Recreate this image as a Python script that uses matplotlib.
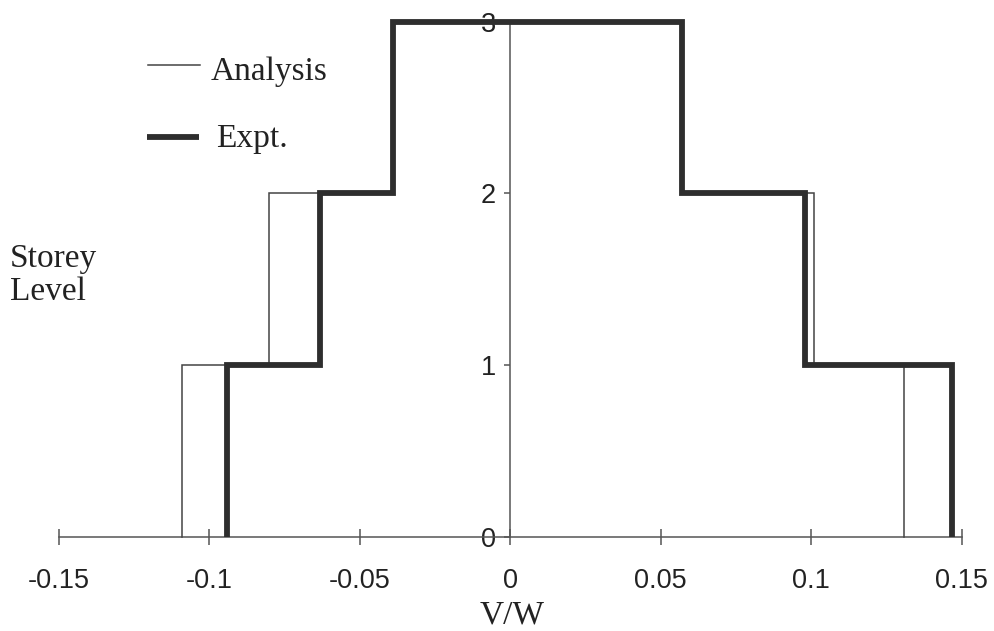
import matplotlib
matplotlib.use("Agg")
import matplotlib.pyplot as plt
from matplotlib.lines import Line2D

# Storey shear envelope (V/W) per storey, negative and positive direction
storeys = [1, 2, 3]
analysis_neg = [-0.109, -0.080, -0.039]
analysis_pos = [0.131, 0.101, 0.057]
expt_neg = [-0.094, -0.063, -0.039]
expt_pos = [0.147, 0.098, 0.057]

x_ticks = [-0.15, -0.1, -0.05, 0, 0.05, 0.1, 0.15]
x_tick_labels = ["-0.15", "-0.1", "-0.05", "0", "0.05", "0.1", "0.15"]
y_ticks = [0, 1, 2, 3]
y_tick_labels = ["0", "1", "2", "3"]


def envelope(neg, pos, levels):
    """Stepped outline: up the negative side, across the top, down the positive side."""
    xs, ys = [], []
    lower = 0
    for lvl, v in zip(levels, neg):
        xs += [v, v]
        ys += [lower, lvl]
        lower = lvl
    for lvl, v in zip(reversed(levels), reversed(pos)):
        below = lvl - 1
        xs += [v, v]
        ys += [lvl, below]
    return xs, ys


W, H = 994, 631
fig = plt.figure(figsize=(W / 100, H / 100), dpi=100)
fig.patch.set_facecolor("white")

x0, x1 = 58.5, 961.5
y0, y3 = 537, 21.5
ax = fig.add_axes([x0 / W, 1 - y0 / H, (x1 - x0) / W, (y0 - y3) / H])
ax.set_xlim(-0.15, 0.15)
ax.set_ylim(0, 3)
ax.patch.set_alpha(0)

line_col = "#2e2e2e"
axis_col = "#555555"
text_col = "#222222"

xa, ya = envelope(analysis_neg, analysis_pos, storeys)
xe, ye = envelope(expt_neg, expt_pos, storeys)
ax.plot(xa, ya, color="#444444", lw=1.1, clip_on=False, zorder=3,
        solid_joinstyle="miter")
ax.plot(xe, ye, color=line_col, lw=4.2, clip_on=False, zorder=4,
        solid_joinstyle="miter", solid_capstyle="butt")

for s in ("top", "right"):
    ax.spines[s].set_visible(False)
ax.spines["left"].set_position(("data", 0))
ax.spines["left"].set_color(axis_col)
ax.spines["left"].set_linewidth(1.1)
ax.spines["bottom"].set_color(axis_col)
ax.spines["bottom"].set_linewidth(1.1)

tick_font = {"family": "Liberation Sans", "size": 19.5}
ax.set_xticks(x_ticks)
ax.set_xticklabels(x_tick_labels, fontdict=tick_font, color=text_col)
ax.set_yticks(y_ticks)
ax.set_yticklabels(y_tick_labels, fontdict=tick_font, color=text_col)
ax.tick_params(axis="x", direction="inout", length=11, width=1.1,
               color=axis_col, pad=17)
ax.tick_params(axis="y", direction="out", length=4, width=1.1,
               color=axis_col, pad=6)

serif = {"family": "Liberation Serif", "size": 24, "color": text_col}

# Axis titles
fig.text(512 / W, 1 - 623 / H, "V/W", ha="center", va="baseline", **serif)
fig.text(10 / W, 1 - 267 / H, "Storey", ha="left", va="baseline", **serif)
fig.text(10 / W, 1 - 300 / H, "Level", ha="left", va="baseline", **serif)

# Legend
fig.add_artist(Line2D([148 / W, 200 / W], [1 - 65 / H, 1 - 65 / H],
                      color="#444444", lw=1.1))
fig.add_artist(Line2D([147 / W, 199 / W], [1 - 137 / H, 1 - 137 / H],
                      color=line_col, lw=4.2, solid_capstyle="butt"))
fig.text(211 / W, 1 - 80 / H, "Analysis", ha="left", va="baseline", **serif)
fig.text(216 / W, 1 - 147 / H, "Expt.", ha="left", va="baseline", **serif)

fig.savefig("out.png", dpi=100, facecolor="white")
